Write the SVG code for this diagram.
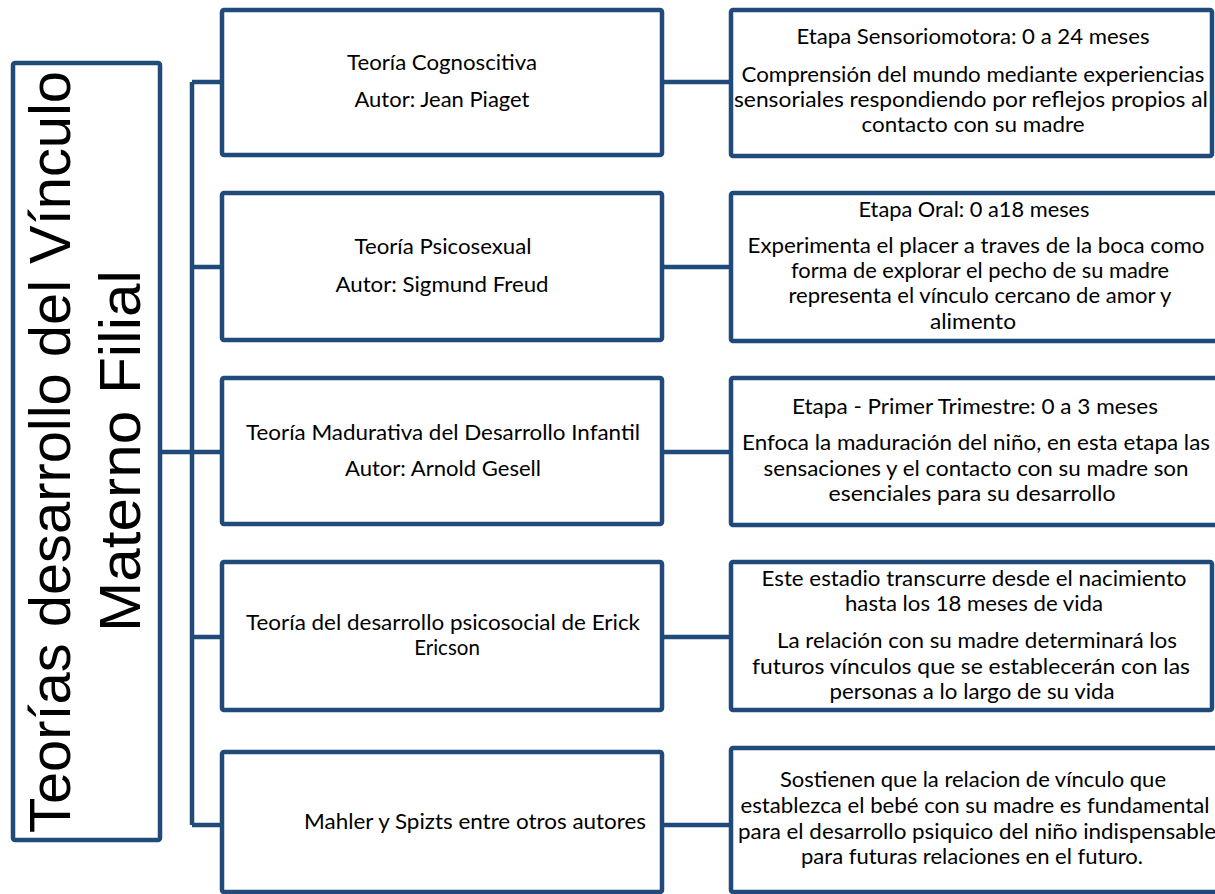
<svg xmlns="http://www.w3.org/2000/svg" width="1215" height="894" viewBox="0 0 1215 894">
<style>
.box{fill:#fff;stroke:#1F4A7A;stroke-width:4.5}
.con{stroke:#1F4A7A;stroke-width:4.5;fill:none}
text{font-family:Lato,"Liberation Sans",sans-serif;font-size:20.5px;fill:#000;text-anchor:middle}
.title{font-family:"Liberation Sans",Arial,sans-serif;font-size:57px}
</style>
<rect width="1215" height="894" fill="#fff"/>
<g id="connectors">
<path class="con" d="M160,452H192M192,82V825M192,82H222M192,267H222M192,452H222M192,637H222M192,825H222"/>
<path class="con" d="M662,82H731M662,267H731M662,452H731M662,637H731M662,825H731"/>
</g>
<g id="title">
<rect class="box" x="13" y="63" width="147" height="777" rx="2"/>
<text class="title" transform="translate(70,452) rotate(-90)" textLength="762" lengthAdjust="spacingAndGlyphs">Teorías desarrollo del Vínculo</text>
<text class="title" transform="translate(140,451) rotate(-90)" textLength="362" lengthAdjust="spacingAndGlyphs">Materno Filial</text>
</g>
<g id="t1">
<rect class="box" x="222" y="10" width="440" height="145" rx="2"/>
<text x="442" y="70" textLength="190" lengthAdjust="spacingAndGlyphs">Teoría Cognoscitiva</text>
<text x="442" y="107" textLength="175" lengthAdjust="spacingAndGlyphs">Autor: Jean Piaget</text>
</g>
<g id="t2">
<rect class="box" x="222" y="193" width="440" height="147" rx="2"/>
<text x="443" y="254" textLength="177" lengthAdjust="spacingAndGlyphs">Teoría Psicosexual</text>
<text x="442" y="292" textLength="213" lengthAdjust="spacingAndGlyphs">Autor: Sigmund Freud</text>
</g>
<g id="t3">
<rect class="box" x="222" y="378" width="440" height="146" rx="2"/>
<text x="443" y="440" textLength="394" lengthAdjust="spacingAndGlyphs">Teoría Madurativa del Desarrollo Infantil</text>
<text x="443" y="476" textLength="196" lengthAdjust="spacingAndGlyphs">Autor: Arnold Gesell</text>
</g>
<g id="t4">
<rect class="box" x="222" y="562" width="440" height="148" rx="2"/>
<text x="443" y="630" textLength="394" lengthAdjust="spacingAndGlyphs">Teoría del desarrollo psicosocial de Erick</text>
<text x="447" y="655">Ericson</text>
</g>
<g id="t5">
<rect class="box" x="222" y="752" width="440" height="140" rx="2"/>
<text x="475" y="829" textLength="342" lengthAdjust="spacingAndGlyphs">Mahler y Spizts entre otros autores</text>
</g>
<g id="d1">
<rect class="box" x="731" y="10" width="481" height="146" rx="2"/>
<text x="973" y="44" textLength="353" lengthAdjust="spacingAndGlyphs">Etapa Sensoriomotora: 0 a 24 meses</text>
<text x="973" y="82" textLength="463" lengthAdjust="spacingAndGlyphs">Comprensión del mundo mediante experiencias</text>
<text x="971" y="107" textLength="474" lengthAdjust="spacingAndGlyphs">sensoriales respondiendo por reflejos propios al</text>
<text x="973" y="132" textLength="223" lengthAdjust="spacingAndGlyphs">contacto con su madre</text>
</g>
<g id="d2">
<rect class="box" x="731" y="193" width="500" height="148" rx="2"/>
<text x="974" y="217" textLength="231" lengthAdjust="spacingAndGlyphs">Etapa Oral: 0 a18 meses</text>
<text x="976" y="253" textLength="457" lengthAdjust="spacingAndGlyphs">Experimenta el placer a traves de la boca como</text>
<text x="980" y="278" textLength="378" lengthAdjust="spacingAndGlyphs">forma de explorar el pecho de su madre</text>
<text x="980" y="303" textLength="383" lengthAdjust="spacingAndGlyphs">representa el vínculo cercano de amor y</text>
<text x="973" y="329" textLength="86" lengthAdjust="spacingAndGlyphs">alimento</text>
</g>
<g id="d3">
<rect class="box" x="731" y="378" width="500" height="147" rx="2"/>
<text x="975" y="414" textLength="366" lengthAdjust="spacingAndGlyphs">Etapa - Primer Trimestre: 0 a 3 meses</text>
<text x="976" y="450" textLength="468" lengthAdjust="spacingAndGlyphs">Enfoca la maduración del niño, en esta etapa las</text>
<text x="976" y="476" textLength="425" lengthAdjust="spacingAndGlyphs">sensaciones y el contacto con su madre son</text>
<text x="972" y="501" textLength="287" lengthAdjust="spacingAndGlyphs">esenciales para su desarrollo</text>
</g>
<g id="d4">
<rect class="box" x="731" y="562" width="481" height="148" rx="2"/>
<text x="974" y="586" textLength="425" lengthAdjust="spacingAndGlyphs">Este estadio transcurre desde el nacimiento</text>
<text x="974" y="611" textLength="258" lengthAdjust="spacingAndGlyphs">hasta los 18 meses de vida</text>
<text x="977" y="648" textLength="400" lengthAdjust="spacingAndGlyphs">La relación con su madre determinará los</text>
<text x="971" y="674" textLength="438" lengthAdjust="spacingAndGlyphs">futuros vínculos que se establecerán con las</text>
<text x="972" y="699" textLength="285" lengthAdjust="spacingAndGlyphs">personas a lo largo de su vida</text>
</g>
<g id="d5">
<rect class="box" x="731" y="748" width="500" height="144" rx="2"/>
<text x="973" y="787" textLength="386" lengthAdjust="spacingAndGlyphs">Sostienen que la relacion de vínculo que</text>
<text x="975" y="813" textLength="469" lengthAdjust="spacingAndGlyphs">establezca el bebé con su madre es fundamental</text>
<text x="977" y="839" textLength="478" lengthAdjust="spacingAndGlyphs">para el desarrollo psiquico del niño indispensable</text>
<text x="972" y="864" textLength="342" lengthAdjust="spacingAndGlyphs">para futuras relaciones en el futuro.</text>
</g>
</svg>
